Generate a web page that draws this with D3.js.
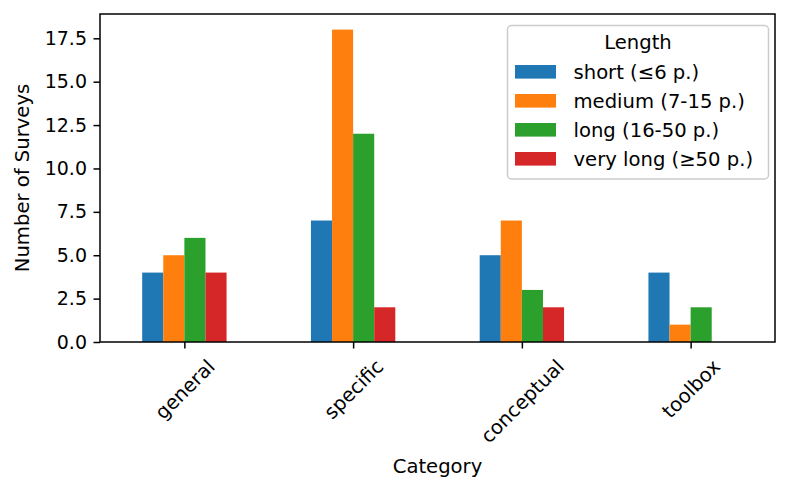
<!DOCTYPE html>
<html>
<head>
<meta charset="utf-8">
<script src="https://cdn.jsdelivr.net/npm/d3@7"></script>
<style>
  html, body { margin: 0; padding: 0; background: #fff; }
  svg { display: block; font-family: "DejaVu Sans", sans-serif; }
</style>
</head>
<body>
<svg id="chart" width="789" height="491"></svg>
<script>
const categories = ["general", "specific", "conceptual", "toolbox"];
const seriesNames = ["short (\u22646 p.)", "medium (7-15 p.)", "long (16-50 p.)", "very long (\u226550 p.)"];
const shortVals = [4, 7, 5, 4];
const mediumVals = [5, 18, 7, 1];
const longVals = [6, 12, 3, 2];
const veryLongVals = [4, 2, 2, 0];
const yTicks = [0, 2.5, 5, 7.5, 10, 12.5, 15, 17.5];
const colors = ["#1f77b4", "#ff7f0e", "#2ca02c", "#d62728"];
const legendTitle = "Length";
const xTitle = "Category";
const yTitle = "Number of Surveys";

const series = [shortVals, mediumVals, longVals, veryLongVals];
const FS = 19.6;
const FST = 19;
const mLeft = 100, mRight = 775, mTop = 14, mBottom = 342;
const svg = d3.select("#chart");

const x = d3.scaleLinear().domain([-0.5, categories.length - 0.5]).range([mLeft, mRight]);
const yMax = d3.max(series.flat()) * 1.05;
const y = d3.scaleLinear().domain([0, yMax]).range([mBottom, mTop]);

const barW = 0.5 / series.length;

// bars
series.forEach((vals, j) => {
  svg.append("g").selectAll("rect").data(vals).join("rect")
    .attr("x", (d, i) => x(i + (j - (series.length - 1) / 2) * barW - barW / 2))
    .attr("width", x(barW) - x(0))
    .attr("y", d => y(d))
    .attr("height", d => y(0) - y(d))
    .attr("fill", colors[j]);
});

// y axis
const yAxis = d3.axisLeft(y).tickValues(yTicks).tickFormat(d3.format(".1f"))
  .tickSize(6.5).tickPadding(6.5).tickSizeOuter(0);
const gy = svg.append("g").attr("transform", `translate(${mLeft},0)`).call(yAxis);
gy.select(".domain").remove();
gy.selectAll("line").attr("stroke", "#000").attr("stroke-width", 1.5);
gy.selectAll("text").attr("font-size", FST).attr("font-family", "DejaVu Sans").attr("fill", "#000");

// x axis
const xAxis = d3.axisBottom(x).tickValues(d3.range(categories.length))
  .tickFormat(i => categories[i]).tickSize(6.5).tickPadding(0).tickSizeOuter(0);
const gx = svg.append("g").attr("transform", `translate(0,${mBottom})`).call(xAxis);
gx.select(".domain").remove();
gx.selectAll("line").attr("stroke", "#000").attr("stroke-width", 1.5);
gx.selectAll("text")
  .attr("font-size", FS).attr("font-family", "DejaVu Sans").attr("fill", "#000")
  .attr("text-anchor", "middle").attr("dy", null)
  .each(function () {
    const t = d3.select(this);
    const w = this.getComputedTextLength();
    const h = FS * 1.164;
    const D = (w + h) / Math.SQRT2;
    const cy = 6.5 + 6.5 + D / 2;
    t.attr("y", 0).attr("transform", `translate(0,${cy}) rotate(-45)`)
      .attr("dy", (FS * 0.346) + "px");
  });

// frame
svg.append("rect").attr("x", mLeft).attr("y", mTop)
  .attr("width", mRight - mLeft).attr("height", mBottom - mTop)
  .attr("fill", "none").attr("stroke", "#000").attr("stroke-width", 1.5);

// axis titles
svg.append("text").attr("x", (mLeft + mRight) / 2).attr("y", 473)
  .attr("text-anchor", "middle").attr("font-size", FS).text(xTitle);
svg.append("text").attr("transform", `translate(29,${(mTop + mBottom) / 2}) rotate(-90)`)
  .attr("text-anchor", "middle").attr("font-size", FS).text(yTitle);

// legend
const lg = svg.append("g");
lg.append("rect").attr("x", 507.5).attr("y", 25.5).attr("width", 261).attr("height", 153.5)
  .attr("rx", 4).attr("fill", "#fff").attr("fill-opacity", 0.8)
  .attr("stroke", "#cccccc").attr("stroke-width", 1.5);
lg.append("text").attr("x", 638).attr("y", 48.5).attr("text-anchor", "middle")
  .attr("font-size", FS).text(legendTitle);
seriesNames.forEach((name, j) => {
  const cy = 71.8 + j * 29;
  lg.append("rect").attr("x", 515).attr("y", cy - 6.8).attr("width", 41).attr("height", 13.6)
    .attr("fill", colors[j]);
  lg.append("text").attr("x", 573.5).attr("y", cy + 6.8).attr("font-size", FS).text(name);
});
</script>
</body>
</html>
